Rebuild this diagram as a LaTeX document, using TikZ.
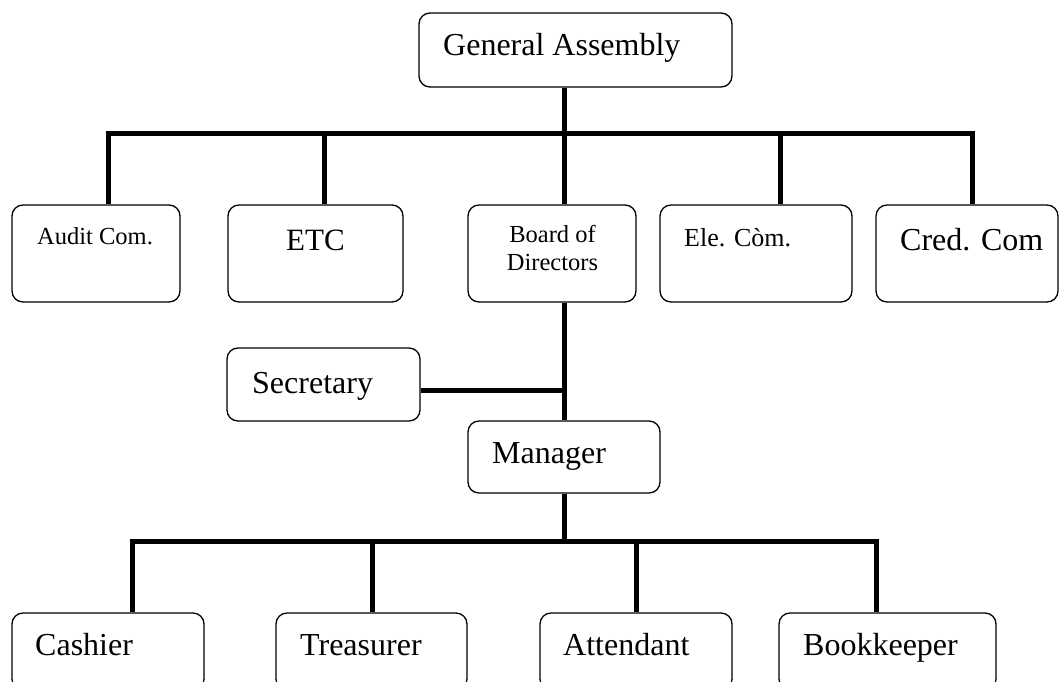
\documentclass[tikz,border=0pt]{standalone}
\usepackage{fontspec}
\setmainfont{Liberation Serif}
\begin{document}
\begin{tikzpicture}[x=1pt,y=-1pt,
  box/.style={draw=black, line width=1.3pt, rounded corners=11pt, inner sep=0pt, fill=white},
  link/.style={line width=5pt, line join=miter},
  big/.style={inner sep=0pt, anchor=base west, font=\fontsize{32}{38}\selectfont},
  small/.style={inner sep=0pt, font=\fontsize{24.5}{28}\selectfont}]
\useasboundingbox (0,0) rectangle (1060,681);
\clip (0,0) rectangle (1060,681);
% boxes
\node[box, minimum width=313pt, minimum height=74pt] (ga) at (575.5,50) {};
\node[box, minimum width=168pt, minimum height=97pt] (audit) at (96,253.5) {};
\node[box, minimum width=175pt, minimum height=97pt] (etc) at (315.5,253.5) {};
\node[box, minimum width=168pt, minimum height=97pt] (board) at (552,253.5) {};
\node[box, minimum width=192pt, minimum height=97pt] (ele) at (756,253.5) {};
\node[box, minimum width=182pt, minimum height=97pt] (cred) at (967,253.5) {};
\node[box, minimum width=193pt, minimum height=73pt] (sec) at (323.5,384.5) {};
\node[box, minimum width=192pt, minimum height=72pt] (mgr) at (564,457) {};
\node[box, minimum width=192pt, minimum height=77pt] (cash) at (108,651.5) {};
\node[box, minimum width=191pt, minimum height=77pt] (treas) at (371.5,651.5) {};
\node[box, minimum width=192pt, minimum height=77pt] (att) at (636,651.5) {};
\node[box, minimum width=217pt, minimum height=77pt] (book) at (887.5,651.5) {};
% texts
\node[big] (gaT) at (443,55) {General Assembly};
\node[small, anchor=base west] (auditT) at (37,244) {Audit Com.};
\node[big, font=\fontsize{31}{36}\selectfont] (etcT) at (286,250) {ETC};
\node[small, anchor=base] (boardT1) at (552.5,242) {Board of};
\node[small, anchor=base] (boardT2) at (552.5,270) {Directors};
\node[small, anchor=base west, font=\fontsize{26}{30}\selectfont] (eleT) at (684,246) {Ele. Còm.};
\node[big] (credT) at (900,250) {Cred. Com};
\node[big] (secT) at (252,393) {Secretary};
\node[big] (mgrT) at (492,463) {Manager};
\node[big] (cashT) at (35,655) {Cashier};
\node[big] (treasT) at (300,655) {Treasurer};
\node[big] (attT) at (563,655) {Attendant};
\node[big] (bookT) at (803,655) {Bookkeeper};
% junction coordinates
\coordinate (b1) at (108,133);
\coordinate (b2) at (324,133);
\coordinate (b3) at (564,133);
\coordinate (b4) at (780,133);
\coordinate (b5) at (972,133);
\coordinate (s1) at (564,390);
\coordinate (c1) at (132,541);
\coordinate (c2) at (372,541);
\coordinate (c3) at (564,541);
\coordinate (c4) at (636,541);
\coordinate (c5) at (876,541);
% connectors
\draw[link] (audit.north -| b1) -- (b1) -- (b5) -- (cred.north -| b5);
\draw[link] (etc.north -| b2) -- (b2);
\draw[link] (ele.north -| b4) -- (b4);
\draw[link] (ga.south -| b3) -- (board.north -| b3);
\draw[link] (board.south -| b3) -- (mgr.north);
\draw[link] (sec.east |- s1) -- (s1);
\draw[link] (cash.north -| c1) -- (c1) -- (c5) -- (book.north -| c5);
\draw[link] (treas.north -| c2) -- (c2);
\draw[link] (att.north -| c4) -- (c4);
\draw[link] (mgr.south) -- (c3);
\end{tikzpicture}
\end{document}
